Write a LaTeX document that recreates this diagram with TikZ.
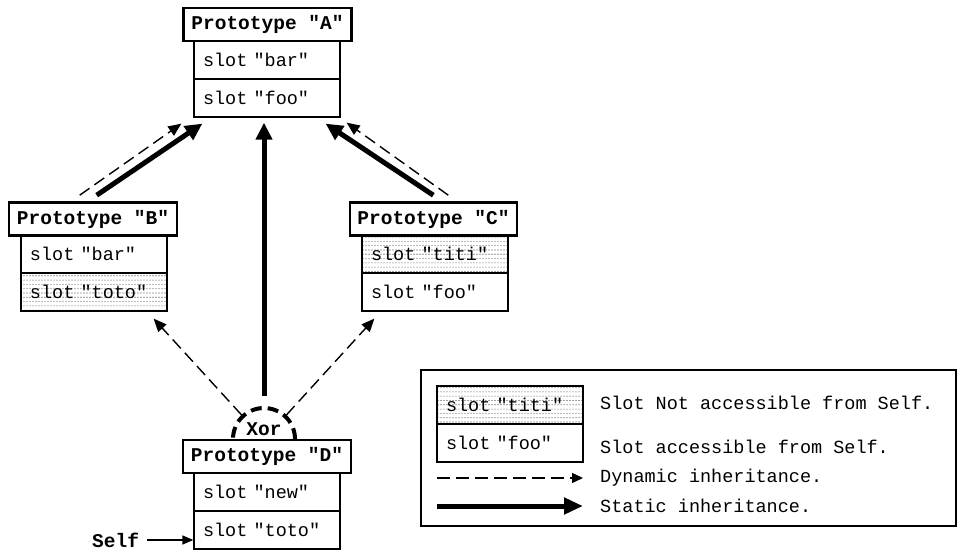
\documentclass[tikz,border=0pt]{standalone}
\usepackage{fontspec}
\setmonofont{Liberation Mono}
\usetikzlibrary{arrows.meta,calc,patterns.meta,shapes.geometric}

\tikzdeclarepattern{
  name=slotdots,
  type=uncolored,
  bottom left={(-0.7pt,-0.7pt)},
  top right={(2.3pt,3.6pt)},
  tile size={(3pt,4.3pt)},
  code={\fill (0pt,0pt) circle (0.55pt);}
}

\newcommand{\slotfnt}{\ttfamily\fontsize{18.5}{20}\selectfont}
\newcommand{\hdrfnt}{\ttfamily\bfseries\fontsize{19.5}{21}\selectfont}

\tikzset{
  hdrbox/.style={draw, line width=2.6pt, fill=white, minimum width=168pt,
    minimum height=33pt, inner sep=0pt, font=\hdrfnt},
  slotbox/.style={draw, line width=1.3pt, fill=white, minimum width=146pt,
    minimum height=38pt, text width=128pt, align=left, inner xsep=9pt,
    inner ysep=0pt, font=\slotfnt},
  hidslot/.style={slotbox, fill=none, pattern=slotdots, pattern color=black!75},
  dynarrow/.style={line width=1.4pt, dash pattern=on 12pt off 6pt,
    -{Triangle[length=13pt,width=11pt]}},
  statarrow/.style={line width=5pt, -{Triangle[length=17pt,width=16pt]}},
  legtext/.style={anchor=west, inner sep=0pt, font=\slotfnt},
  xorring/.style={circle, draw, line width=4pt, dash pattern=on 11pt off 6pt,
    minimum size=62pt, inner sep=0pt, fill=white},
}

\begin{document}
\begin{tikzpicture}[x=1pt,y=-1pt]
\useasboundingbox (0,0) rectangle (962,551);

% Prototype A
\node[slotbox] (As1) at (267,60) {slot "bar"};
\node[slotbox] (As2) at (267,98) {slot "foo"};
\node[hdrbox] (Ah) at (267.5,24.5) {Prototype "A"};

% Prototype B
\node[slotbox] (Bs1) at (94,254) {slot "bar"};
\node[hidslot] (Bs2) at (94,292) {slot "toto"};
\node[hdrbox] (Bh) at (93,219) {Prototype "B"};

% Prototype C
\node[hidslot] (Cs1) at (435,254) {slot "titi"};
\node[slotbox] (Cs2) at (435,292) {slot "foo"};
\node[hdrbox, minimum width=167pt] (Ch) at (433.5,219) {Prototype "C"};

% Xor ring
\node[xorring] (Xor) at (264,439) {};
\node[inner sep=0pt, font=\hdrfnt] (Xort) at (264,429) {Xor};

% Prototype D
\node[slotbox] (Ds1) at (267,492) {slot "new"};
\node[slotbox] (Ds2) at (267,530) {slot "toto"};
\node[hdrbox] (Dh) at (267,456.5) {Prototype "D"};

% Self
\node[inner sep=0pt, font=\hdrfnt, anchor=west] (Self) at (92,540) {Self};
\coordinate (selfstart) at ($(Self.east)+(8,0)$);
\draw[line width=1.4pt, -{Triangle[length=11pt,width=9pt]}]
  (selfstart) -- (Ds2.west |- selfstart);

% connectors between A and B, C
\draw[dynarrow] ($(Bh.north west)+(72,-6)$) -- ($(As2.south west)+(-12,6)$);
\draw[statarrow] ($(Bh.north west)+(89,-6)$) -- ($(As2.south west)+(9,6)$);
\draw[statarrow] ($(Ch.north east)+(-85,-6)$) -- ($(As2.south east)+(-15,6)$);
\draw[dynarrow] ($(Ch.north east)+(-70,-6)$) -- ($(As2.south east)+(6,5)$);

% connectors from D (Xor)
\draw[statarrow] ($(Xor.north)+(0,-10)$) -- ($(As2.south)+(-3,5)$);
\draw[dynarrow] (Xor.133) -- ($(Bs2.south east)+(-14,7)$);
\draw[dynarrow] (Xor.47) -- ($(Cs2.south west)+(13,7)$);

% Legend
\node[draw, line width=1.3pt, minimum width=535pt, minimum height=156pt, inner sep=0pt] (legend) at (688.5,448) {};
\node[hidslot] (Ls1) at (510,405) {slot "titi"};
\node[slotbox] (Ls2) at (510,443) {slot "foo"};
\node[legtext] (Lt1) at (600,403) {Slot Not accessible from Self.};
\node[legtext] (Lt2) at (600,447) {Slot accessible from Self.};
\node[legtext] (Lt3) at (600,478) {Dynamic inheritance.};
\node[legtext] (Lt4) at (600,506) {Static inheritance.};
\coordinate (Ld1) at (437,478);
\coordinate (Ld2) at (583,478);
\coordinate (Ls1a) at (437,506);
\coordinate (Ls2a) at (583,506);
\draw[line width=1.4pt, dash pattern=on 13pt off 6pt, -{Triangle[length=11pt,width=10pt]}] (Ld1) -- (Ld2);
\draw[statarrow, -{Triangle[length=19pt,width=16pt]}] (Ls1a) -- (Ls2a);
\end{tikzpicture}
\end{document}
